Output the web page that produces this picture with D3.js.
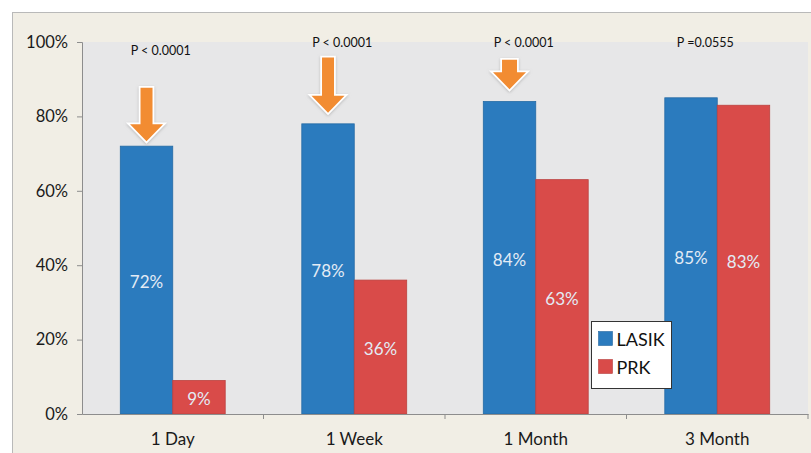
<!DOCTYPE html>
<html>
<head>
<meta charset="utf-8">
<script src="https://cdn.jsdelivr.net/npm/d3@7/dist/d3.min.js"></script>
<style>
  html, body { margin: 0; padding: 0; background: #fff; }
  svg { display: block; font-family: Lato, "Open Sans", sans-serif; }
</style>
</head>
<body>
<div id="chart"></div>
<script>
// chart values
const categories = ["1 Day", "1 Week", "1 Month", "3 Month"];
const seriesNames = ["LASIK", "PRK"];
const lasik = [72, 78, 84, 85];
const prk = [9, 36, 63, 83];
const pValues = ["P < 0.0001", "P < 0.0001", "P < 0.0001", "P =0.0555"];
const pLabelAt = [96.5, 98.7, 98.7, 98.7];        // label baseline, in % units
const arrowFrom = [87.7, 95.8, 95.2];               // arrow shaft top, in % units
const arrowTo = [73.3, 81.0, 87.3];                 // arrow tip, in % units
const yTicks = [0, 20, 40, 60, 80, 100];

const width = 811, height = 453;
const margin = {left: 82, right: 3, top: 42, bottom: 39};
const colors = {LASIK: "#2b7bbe", PRK: "#d94b49"};

const svg = d3.select("#chart").append("svg")
  .attr("width", width)
  .attr("height", height);

const defs = svg.append("defs");
const shadow = defs.append("filter").attr("id", "glow")
  .attr("x", "-50%").attr("y", "-50%").attr("width", "200%").attr("height", "200%");
shadow.append("feDropShadow")
  .attr("dx", 0).attr("dy", 1).attr("stdDeviation", 1.5)
  .attr("flood-color", "#999").attr("flood-opacity", 0.6);

// outer frame
svg.append("rect")
  .attr("x", 12.5).attr("y", 12.5)
  .attr("width", width).attr("height", height)
  .attr("fill", "#f1eee5")
  .attr("stroke", "#b9b9b9");

const x = d3.scaleBand()
  .domain(categories)
  .range([margin.left, width - margin.right]);

const xs = d3.scaleBand()
  .domain(seriesNames)
  .range([0, x.bandwidth()])
  .paddingOuter(0.73);

const y = d3.scaleLinear()
  .domain([0, 100])
  .range([height - margin.bottom, margin.top]);

// plot area
svg.append("rect")
  .attr("x", margin.left).attr("y", y(100))
  .attr("width", x.range()[1] - margin.left)
  .attr("height", y(0) - y(100))
  .attr("fill", "#e7e7e8");

const rows = categories.map((c, i) => ({cat: c, LASIK: lasik[i], PRK: prk[i]}));

const groups = svg.append("g").selectAll("g")
  .data(rows)
  .join("g")
  .attr("transform", d => `translate(${x(d.cat)},0)`);

groups.selectAll("rect")
  .data(d => seriesNames.map(k => ({key: k, value: d[k]})))
  .join("rect")
  .attr("x", d => xs(d.key))
  .attr("y", d => y(d.value))
  .attr("width", xs.bandwidth())
  .attr("height", d => y(0) - y(d.value))
  .attr("fill", d => colors[d.key])
  .attr("stroke", d => d3.color(colors[d.key]).darker(0.4))
  .attr("stroke-width", 0.8);

groups.selectAll("text.val")
  .data(d => seriesNames.map(k => ({key: k, value: d[k]})))
  .join("text")
  .attr("class", "val")
  .attr("x", d => xs(d.key) + xs.bandwidth() / 2)
  .attr("y", d => (y(d.value) + y(0)) / 2 + 8)
  .attr("text-anchor", "middle")
  .attr("fill", "#e3ebf5")
  .style("font-size", "17px")
  .text(d => d.value + "%");

// axes
const yAxis = svg.append("g")
  .attr("transform", `translate(${margin.left},0)`)
  .call(d3.axisLeft(y).tickValues(yTicks).tickFormat(d => d + "%").tickSize(5).tickPadding(9));
yAxis.select(".domain").attr("stroke", "#8d8d8d");
yAxis.selectAll(".tick line").attr("stroke", "#8d8d8d");
yAxis.selectAll("text").attr("fill", "#1a1a1a")
  .style("font-size", "16.5px").style("font-family", "Lato, sans-serif");

const xAxis = svg.append("g")
  .attr("transform", `translate(0,${y(0)})`)
  .call(d3.axisBottom(x).tickSize(0).tickPadding(19));
xAxis.select(".domain").attr("stroke", "#8d8d8d");
xAxis.selectAll("text").attr("fill", "#1a1a1a")
  .style("font-size", "17px").style("font-family", "Lato, sans-serif");
// boundary ticks between categories
svg.append("g").selectAll("line")
  .data(categories)
  .join("line")
  .attr("x1", d => x(d) + x.bandwidth())
  .attr("x2", d => x(d) + x.bandwidth())
  .attr("y1", y(0))
  .attr("y2", y(0) + 5)
  .attr("stroke", "#8d8d8d");

// p-value labels
svg.append("g").selectAll("text")
  .data(pValues)
  .join("text")
  .attr("x", (d, i) => x(categories[i]) + x.bandwidth() / 2 - 12)
  .attr("y", (d, i) => y(pLabelAt[i]))
  .attr("text-anchor", "middle")
  .attr("fill", "#111")
  .style("font-size", "12.5px")
  .text(d => d);

// arrows over LASIK bars
function arrowPath(cx, top, tip, shaft, headW, headH) {
  const s = shaft / 2, h = headW / 2, b = tip - headH;
  return `M${cx - s},${top}L${cx + s},${top}L${cx + s},${b}L${cx + h},${b}` +
    `L${cx},${tip}L${cx - h},${b}L${cx - s},${b}Z`;
}
const shaftW = [12, 12, 15];
svg.append("g").selectAll("path")
  .data(arrowFrom)
  .join("path")
  .attr("d", (d, i) => {
    const cx = x(categories[i]) + xs("LASIK") + xs.bandwidth() / 2;
    return arrowPath(cx, y(d), y(arrowTo[i]), shaftW[i], 33, 17);
  })
  .attr("fill", "#f28c33")
  .attr("stroke", "#fff")
  .attr("stroke-width", 3.5)
  .attr("stroke-linejoin", "miter")
  .attr("paint-order", "stroke")
  .attr("filter", "url(#glow)");

// legend
const legend = svg.append("g").attr("transform", "translate(591.5,321.5)");
legend.append("rect")
  .attr("width", 80).attr("height", 67)
  .attr("fill", "#fff")
  .attr("stroke", "#333");
legend.selectAll("g")
  .data(seriesNames)
  .join("g")
  .attr("transform", (d, i) => `translate(7,${10 + i * 28})`)
  .call(g => g.append("rect")
    .attr("width", 14).attr("height", 14)
    .attr("fill", d => colors[d])
    .attr("stroke", d => d3.color(colors[d]).darker(0.5))
    .attr("stroke-width", 0.6))
  .call(g => g.append("text")
    .attr("x", 18).attr("y", 14)
    .attr("fill", "#111")
    .style("font-size", "18px")
    .text(d => d));
</script>
</body>
</html>
